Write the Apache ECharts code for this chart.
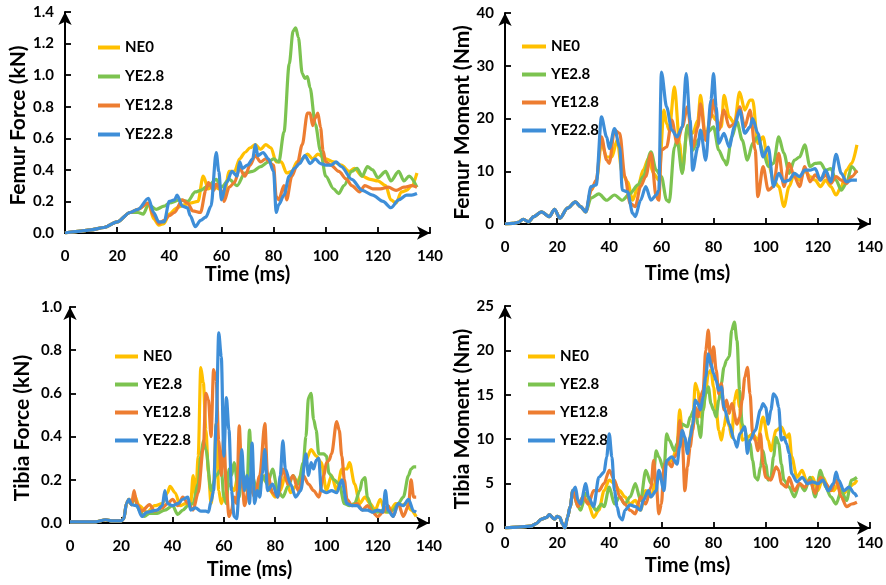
<!DOCTYPE html>
<html>
<head>
<meta charset="utf-8">
<script src="https://cdn.jsdelivr.net/npm/echarts@6/dist/echarts.min.js"></script>
<style>html,body{margin:0;padding:0;background:#fff}#c{width:886px;height:585px}</style>
</head>
<body>
<div id="c"></div>
<script>
const seriesNames = ['NE0', 'YE2.8', 'YE12.8', 'YE22.8'];
const seriesColors = ['#FFC000', '#7CC350', '#ED7D31', '#3E8ED8'];
const timeTicks = [0, 20, 40, 60, 80, 100, 120, 140];

// ---- Femur Force (kN) ----
const ffStart = [[0,0],[5,0.01],[10,0.02],[15,0.035],[20,0.07],[25,0.13]];
const ffNE0 = [[28,0.15],[32,0.19],[34,0.09],[36,0.05],[38,0.06],[40,0.12],[43,0.16],[46,0.18],[48,0.19],[51,0.2],[53,0.36],[55,0.28],[57,0.3],[59,0.28],[61,0.24],[63,0.39],[65,0.39],[67,0.47],[69,0.51],[71,0.54],[73,0.56],[75,0.53],[77,0.56],[79,0.54],[81,0.45],[83,0.45],[85,0.38],[87,0.39],[89,0.45],[91,0.47],[93,0.5],[95,0.47],[97,0.5],[100,0.47],[103,0.45],[106,0.43],[109,0.39],[111,0.41],[114,0.36],[117,0.34],[120,0.33],[123,0.3],[125,0.21],[127,0.19],[129,0.26],[131,0.27],[133,0.3],[135,0.38]];
const ffYE28 = [[28,0.13],[30,0.12],[32,0.18],[35,0.15],[38,0.17],[40,0.19],[44,0.21],[47,0.2],[50,0.26],[52,0.27],[55,0.3],[58,0.34],[60,0.29],[63,0.34],[66,0.3],[69,0.38],[72,0.39],[75,0.42],[78,0.45],[80,0.47],[82,0.45],[84,0.64],[86,1.07],[87.5,1.28],[88.5,1.3],[89.5,1.24],[91,1.01],[92,0.98],[93,0.99],[94,0.92],[96,0.69],[98,0.52],[100,0.36],[103,0.28],[105,0.25],[107,0.3],[110,0.39],[112,0.41],[114,0.36],[116,0.42],[118,0.4],[120,0.35],[123,0.39],[125,0.33],[128,0.39],[130,0.33],[132,0.36],[135,0.29]];
const ffYE128 = [[28,0.15],[32,0.19],[34,0.11],[36,0.06],[38,0.08],[40,0.11],[42,0.13],[45,0.21],[47,0.19],[49,0.14],[52,0.13],[54,0.27],[55,0.32],[57,0.27],[58,0.31],[60,0.27],[61,0.2],[63,0.29],[65,0.32],[67,0.41],[69,0.36],[71,0.43],[73,0.49],[75,0.45],[77,0.47],[80,0.43],[81,0.23],[82,0.21],[84,0.3],[85,0.21],[87,0.36],[89,0.43],[91,0.56],[93,0.76],[94,0.76],[95,0.68],[96,0.73],[97,0.76],[98,0.67],[99,0.52],[100,0.45],[102,0.43],[105,0.39],[108,0.34],[110,0.3],[113,0.26],[115,0.3],[118,0.28],[121,0.28],[124,0.29],[127,0.27],[130,0.29],[133,0.3],[135,0.29]];
const ffYE228 = [[28,0.15],[32,0.22],[34,0.13],[36,0.07],[38,0.07],[40,0.2],[42,0.21],[43,0.24],[45,0.17],[47,0.16],[48,0.11],[50,0.04],[52,0.08],[54,0.1],[56,0.17],[58,0.51],[59,0.39],[60,0.21],[62,0.32],[64,0.39],[66,0.36],[67,0.45],[68,0.41],[70,0.43],[72,0.47],[73,0.56],[74,0.49],[76,0.51],[78,0.47],[80,0.39],[81,0.13],[82,0.18],[84,0.24],[86,0.36],[88,0.41],[90,0.44],[92,0.49],[94,0.44],[96,0.47],[98,0.44],[100,0.43],[102,0.43],[104,0.45],[106,0.42],[110,0.34],[114,0.27],[118,0.24],[122,0.2],[125,0.16],[128,0.21],[131,0.24],[133,0.24],[135,0.25]];

// ---- Femur Moment (Nm) ----
const fmStart = [[0,0],[3,0.1],[5,0.3],[7,0.9],[9,0.4],[11,1.4],[14,2.3],[17,1.4],[19,2.8],[21,1.1],[24,3.0],[27,4.2],[29,3.3],[31,2.3]];
const fmNE0 = [[33,6.4],[35,8],[37,15.3],[39,12.7],[41,12.7],[43,15.9],[45,9.6],[47,8],[49,4.5],[51,7.1],[53,10.2],[55,12.4],[57,9.6],[59,8.3],[61,21.6],[62,19],[63,17.8],[65,26],[67,15.3],[68,9.9],[70,18.4],[72,17.2],[74,19.7],[75,24.4],[77,15.9],[79,20.9],[81,19.7],[83,18.4],[84,24.4],[86,20.3],[88,19],[90,25],[92,21.6],[94,23.5],[95,23.5],[97,15.3],[99,16.5],[101,11.5],[103,8.3],[105,7.1],[107,3.3],[109,7.1],[111,9.6],[113,8.3],[115,10.2],[117,9],[119,8.3],[121,7.1],[123,8.3],[125,7.1],[127,5.5],[129,7.1],[131,10.2],[133,11.5],[135,15]];
const fmYE28 = [[33,4.9],[36,5.7],[39,4.5],[42,5.5],[45,4.5],[48,5.8],[51,7.4],[53,9],[56,13.7],[58,10.2],[60,9],[62,4.5],[63,4.2],[65,14.6],[66,15.9],[68,9.6],[70,18.7],[72,14],[74,15.9],[76,17.5],[78,17.5],[80,18.4],[82,14],[84,12.1],[85,11.2],[87,16.5],[89,19.4],[91,15.9],[93,12.1],[95,15.3],[97,16.5],[99,13.7],[101,10.9],[103,11.5],[105,16.5],[107,13.4],[109,9.6],[111,12.1],[113,12.7],[115,15],[117,10.9],[119,11.5],[121,11.6],[123,10.2],[125,10.5],[127,8.3],[129,6.4],[131,7.7],[133,10.9],[135,9.6]];
const fmYE128 = [[33,6.4],[35,8.3],[37,16.5],[39,12.1],[40,11.5],[42,17.8],[44,17.2],[46,9],[48,3.9],[50,3.3],[52,7.1],[54,9],[56,13.4],[58,5.2],[59,4.5],[60,14],[62,14.6],[64,19.7],[66,15.3],[68,18.4],[70,22.2],[72,14.6],[74,18.4],[75,22.8],[77,15.9],[79,20.3],[80,23.5],[82,17.8],[84,21.6],[86,18.4],[88,19],[90,22.2],[92,18.4],[94,21.6],[96,14],[97,5.2],[99,10.9],[101,6.4],[103,7.1],[105,13.4],[107,7.1],[109,11.5],[111,9],[113,7.1],[115,10.9],[117,8],[119,9.3],[121,8.3],[123,9.3],[125,7.7],[127,9],[129,8.3],[131,7.7],[133,9],[135,10.2]];
const fmYE228 = [[33,7.1],[35,7.4],[37,20.3],[39,16.5],[40,14.3],[42,18.1],[44,14.6],[45,6.4],[47,6.1],[49,2],[50,1.4],[52,4.5],[54,7.1],[56,4.5],[58,5.5],[59,6.4],[60,28.8],[62,22.2],[64,17.8],[66,16.5],[68,18.4],[69.5,28.5],[71,19.7],[72,10.2],[74,14.6],[75,17.8],[77,12.1],[79,23.5],[80,28.5],[81,22.2],[82,15.3],[84,17.2],[86,14.6],[88,18.4],[90,21.6],[92,17.2],[94,18.4],[95,20],[97,17.2],[99,12.7],[101,14.6],[103,7.1],[105,9.6],[107,8],[109,8.3],[111,9.6],[113,9],[115,10.2],[117,10.2],[119,10.5],[121,8.3],[123,10.2],[125,8],[127,13.2],[129,9.6],[131,8],[133,8.3],[135,8.3]];

// ---- Tibia Force (kN) ----
const tfStart = [[0,0.005],[10,0.005],[14,0.015],[16,0.01],[20,0.01],[21,0.02],[22,0.09],[23,0.11],[24,0.085]];
const tfNE0 = [[25,0.13],[27,0.08],[30,0.05],[33,0.08],[36,0.09],[38,0.14],[39,0.17],[41,0.14],[43,0.08],[45,0.09],[47,0.08],[48,0.22],[49,0.12],[50,0.31],[51,0.72],[52,0.65],[53,0.43],[54,0.23],[55,0.09],[56,0.17],[57,0.46],[58,0.15],[59,0.09],[60,0.12],[62,0.18],[64,0.15],[66,0.25],[68,0.15],[70,0.2],[72,0.12],[74,0.18],[76,0.22],[78,0.15],[80,0.12],[82,0.15],[84,0.22],[86,0.14],[88,0.17],[90,0.22],[92,0.29],[94,0.34],[96,0.31],[98,0.28],[100,0.15],[102,0.22],[104,0.15],[106,0.25],[108,0.25],[109,0.28],[111,0.18],[113,0.09],[115,0.12],[117,0.09],[119,0.06],[121,0.11],[123,0.05],[125,0.06],[127,0.09],[129,0.08],[131,0.09],[133,0.06],[135,0.03]];
const tfYE28 = [[25,0.12],[27,0.06],[29,0.03],[31,0.045],[34,0.045],[37,0.06],[40,0.08],[42,0.04],[44,0.06],[46,0.08],[48,0.09],[50,0.18],[51,0.31],[52,0.38],[53,0.34],[55,0.15],[57,0.22],[59,0.25],[60,0.12],[61,0.09],[62,0.25],[63,0.22],[64,0.28],[66,0.12],[67,0.25],[68,0.22],[69,0.15],[70,0.43],[71,0.22],[73,0.15],[75,0.22],[77,0.18],[79,0.25],[81,0.15],[83,0.12],[85,0.17],[87,0.22],[89,0.18],[91,0.28],[92,0.4],[93,0.58],[94,0.6],[95,0.48],[96,0.43],[97,0.32],[99,0.32],[100,0.31],[101,0.23],[103,0.2],[105,0.18],[107,0.09],[109,0.08],[111,0.09],[113,0.15],[114,0.2],[115,0.21],[116,0.12],[118,0.06],[120,0.05],[122,0.06],[124,0.05],[126,0.06],[128,0.09],[130,0.12],[132,0.22],[133,0.25],[134,0.26],[135,0.26]];
const tfYE128 = [[25,0.15],[26,0.09],[28,0.055],[31,0.085],[33,0.055],[36,0.07],[38,0.09],[40,0.11],[42,0.08],[44,0.12],[46,0.09],[48,0.06],[50,0.14],[52,0.35],[53,0.6],[54,0.57],[55,0.4],[56,0.71],[57,0.66],[58,0.38],[59,0.22],[60,0.4],[61,0.15],[62,0.03],[63,0.06],[64,0.12],[65,0.09],[66,0.45],[67,0.22],[68,0.08],[70,0.18],[72,0.12],[74,0.22],[76,0.46],[77,0.23],[79,0.14],[81,0.12],[83,0.25],[85,0.18],[87,0.22],[89,0.15],[91,0.22],[93,0.18],[95,0.15],[97,0.12],[99,0.22],[100,0.28],[101,0.29],[102,0.32],[104,0.47],[105,0.43],[106,0.31],[107,0.2],[108,0.11],[110,0.08],[112,0.09],[114,0.06],[116,0.08],[118,0.05],[120,0.03],[122,0.05],[124,0.08],[126,0.03],[128,0.09],[130,0.03],[132,0.08],[133,0.2],[134,0.12],[135,0.12]];
const tfYE228 = [[26,0.08],[28,0.03],[30,0.05],[32,0.055],[34,0.06],[36,0.08],[37,0.15],[38,0.09],[40,0.08],[42,0.09],[44,0.11],[46,0.12],[47,0.06],[49,0.07],[51,0.055],[53,0.055],[54,0.05],[55,0.1],[56,0.15],[57,0.46],[58,0.88],[59,0.77],[60,0.31],[61,0.58],[62,0.43],[63,0.15],[64,0.03],[65,0.02],[66,0.15],[67,0.34],[68,0.15],[69,0.22],[70,0.09],[71,0.37],[72,0.09],[73,0.15],[74,0.12],[75,0.23],[76,0.34],[77,0.15],[79,0.18],[81,0.12],[82,0.22],[83,0.38],[84,0.25],[86,0.18],[88,0.12],[90,0.15],[92,0.32],[93,0.22],[94,0.28],[95,0.25],[96,0.29],[97,0.3],[98,0.15],[100,0.14],[102,0.15],[104,0.14],[106,0.2],[108,0.09],[110,0.08],[112,0.08],[114,0.06],[116,0.06],[118,0.05],[120,0.06],[122,0.05],[123,0.15],[124,0.06],[126,0.03],[128,0.09],[130,0.08],[132,0.11],[134,0.055],[135,0.05]];

// ---- Tibia Moment (Nm) ----
const tmStart = [[0,0],[5,0.1],[10,0.2],[12,0.5],[14,1.0],[16,1.2],[17,1.5],[19,1.0],[20,1.3],[21,1.2],[22,0.5],[23,0],[24,1.2],[25,2.4],[26,4.2]];
const tmNE0 = [[28,2.7],[30,3.5],[32,2.7],[34,1.2],[36,2.0],[38,4.2],[40,5.4],[42,5.0],[44,4.2],[46,3.5],[48,2.7],[50,3.1],[52,2.0],[54,4.2],[56,3.5],[58,5.4],[60,5.7],[62,7.2],[64,7.6],[66,9.1],[67,13.3],[68,11],[69,9.5],[70,8.7],[72,11.7],[73,16.3],[74,15.5],[75,12.5],[76,13.3],[77,15.5],[78,17.4],[79,17.8],[80,15.9],[81,13.3],[82,11],[83,9.9],[84,11.4],[85,12.9],[86,11.4],[87,10.2],[88,14.4],[89,15.5],[90,13.6],[91,9.9],[93,10.2],[95,10.6],[97,9.9],[99,12.5],[101,9.9],[102,8.7],[104,11],[106,11.4],[108,10.2],[109,10.6],[110,8],[112,5.7],[114,6.5],[116,5.0],[118,5.7],[120,4.2],[122,5.7],[124,4.6],[126,4.2],[128,5.0],[130,3.9],[132,4.6],[134,5.0],[135,5.4]];
const tmYE28 = [[28,2.4],[29,2.0],[31,3.9],[33,2.7],[35,2.0],[37,2.7],[38,2.4],[40,4.6],[42,2.7],[44,3.5],[46,2.7],[48,3.5],[50,5.0],[52,3.1],[54,6.5],[56,5.0],[57,6.1],[58,8.7],[59,8],[61,6.5],[62,10.6],[63,9.9],[65,8.7],[66,9.5],[67,11],[68,11.7],[70,11.4],[71,12.5],[73,13.6],[74,11.7],[75,10.2],[76,13.3],[77,15.1],[78,15.9],[79,14],[80,13.3],[81,12.5],[82,14.4],[83,16.3],[84,18.1],[85,18.9],[86,19.3],[87,22.3],[88,23.2],[89,21.1],[90,15.5],[91,11.7],[92,11],[93,9.9],[94,9.5],[95,7.6],[96,5.7],[97,5.4],[98,6.9],[99,8.7],[100,7.2],[101,5.4],[102,5.7],[103,8],[104,10.2],[105,9.5],[106,7.2],[107,5.4],[109,4.6],[111,3.5],[113,5.0],[115,4.2],[117,5.7],[119,3.5],[121,6.5],[123,4.6],[125,3.5],[127,2.7],[129,4.2],[131,3.1],[133,5.4],[135,5.7]];
const tmYE128 = [[28,2.4],[30,3.5],[32,2.7],[34,4.2],[36,4.2],[38,5.0],[40,6.5],[42,5.4],[44,3.5],[46,2.7],[48,2.0],[50,1.6],[52,3.5],[54,2.7],[56,4.6],[57,7.6],[58,5.0],[59,1.6],[60,2.7],[61,6.9],[62,7.6],[64,6.9],[65,8],[66,8.4],[67,12.1],[68,9.9],[69,4.2],[70,6.9],[71,9.1],[72,11],[73,13.6],[74,12.5],[75,14.8],[76,15.5],[77,20],[78,22.3],[79,18.1],[80,20.4],[81,17.8],[82,15.1],[83,16.3],[84,13.3],[85,14.4],[86,12.9],[87,14],[89,11.7],[90,12.5],[91,14.4],[92,17],[93,18.1],[94,15.1],[95,10.6],[96,9.9],[97,8.7],[98,10.6],[99,7.2],[100,5.7],[102,5.4],[104,6.9],[105,6.5],[106,5.0],[108,4.6],[109,5.7],[111,4.2],[113,5.0],[115,4.6],[117,5.4],[119,3.9],[121,5.7],[123,5.0],[125,4.2],[127,5.4],[129,3.5],[131,2.4],[133,2.7],[135,2.9]];
const tmYE228 = [[27,4.6],[28,3.1],[29,2.7],[31,5.0],[32,3.5],[34,2.4],[36,5.7],[38,6.3],[39,8],[40,10.6],[41,8],[42,4.2],[43,2.4],[44,1.2],[45,0.9],[46,2.0],[48,2.6],[50,2.4],[52,2.0],[53,3.1],[55,4.2],[56,3.5],[58,4.2],[59,6.5],[61,4.2],[62,7.6],[64,8],[66,7.2],[67,9.1],[68,11],[69,10.2],[70,8.4],[71,10.2],[72,11.7],[73,14.4],[74,14],[75,13.3],[76,14.8],[77,17],[78,19.6],[79,18.5],[80,17.4],[81,16.6],[82,15.5],[83,15.9],[84,13.6],[86,11.7],[88,9.9],[89,9.1],[90,10.6],[92,11.4],[93,8.4],[94,9.9],[96,11],[98,13.3],[99,14],[100,13.6],[101,11.7],[102,13.3],[103,15.1],[104,14.8],[105,13.6],[106,9.9],[107,10.2],[108,9.5],[109,8.4],[110,6.1],[112,5.2],[114,5.7],[116,5.0],[118,5.2],[120,5.0],[122,5.4],[124,4.2],[126,5.0],[127,6.3],[128,5.4],[130,4.2],[132,4.6],[134,3.9],[135,3.5]];

const panels = [
  { yName: 'Femur Force (kN)', yMax: 1.4, yInt: 0.2, dec: 1, start: ffStart, data: [ffNE0, ffYE28, ffYE128, ffYE228],
    grid: {left: 65, top: 12, width: 365, height: 221}, xLabelMargin: 16, xNameGap: 30, yLabelMargin: 11, yNameGap: 33, yNamePad: [0, 6, 0, 0],
    legend: {left: 93, top: 34, itemWidth: 22, itemGap: 12} },
  { yName: 'Femur Moment (Nm)', yMax: 40, yInt: 10, dec: 0, start: fmStart, data: [fmNE0, fmYE28, fmYE128, fmYE228],
    grid: {left: 505, top: 13, width: 369, height: 211}, xLabelMargin: 16, xNameGap: 40, yLabelMargin: 11, yNameGap: 31, yNamePad: [0, 8, 0, 0],
    legend: {left: 517, top: 33, itemWidth: 24, itemGap: 11} },
  { yName: 'Tibia Force (kN)', yMax: 1.0, yInt: 0.2, dec: 1, start: tfStart, data: [tfNE0, tfYE28, tfYE128, tfYE228],
    grid: {left: 70, top: 307, width: 359, height: 216}, xLabelMargin: 16, xNameGap: 37, yLabelMargin: 8, yNameGap: 37, yNamePad: [0, 26, 0, 0],
    legend: {left: 110, top: 343, itemWidth: 23, itemGap: 11} },
  { yName: 'Tibia Moment (Nm)', yMax: 25, yInt: 5, dec: 0, start: tmStart, data: [tmNE0, tmYE28, tmYE128, tmYE228],
    grid: {left: 505, top: 306, width: 370, height: 222}, xLabelMargin: 8, xNameGap: 28, yLabelMargin: 11, yNameGap: 29, yNamePad: [0, 4, 0, 0],
    legend: {left: 523, top: 343, itemWidth: 27, itemGap: 11} }
];

const FONT = 'Lato';
const axisLineStyle = { show: true, symbol: ['none', 'arrow'], symbolSize: [10, 13], lineStyle: { color: '#000', width: 2 } };
const tickStyle = { show: true, inside: true, length: 6, lineStyle: { color: '#000', width: 1.8 } };

const option = { animation: false, backgroundColor: '#fff', grid: [], xAxis: [], yAxis: [], legend: [], series: [] };

panels.forEach((p, i) => {
  option.grid.push(Object.assign({ containLabel: false }, p.grid));
  option.xAxis.push({
    type: 'value', gridIndex: i, min: 0, max: 140, interval: 20,
    name: 'Time (ms)', nameLocation: 'middle', nameGap: p.xNameGap,
    nameTextStyle: { fontFamily: FONT, fontWeight: 'bold', fontSize: 20, color: '#000' },
    axisLine: axisLineStyle,
    axisTick: tickStyle,
    axisLabel: { margin: p.xLabelMargin, fontFamily: FONT, fontWeight: 'bold', fontSize: 15, color: '#000',
      formatter: v => timeTicks.includes(v) ? String(v) : '' },
    splitLine: { show: false }
  });
  option.yAxis.push({
    type: 'value', gridIndex: i, min: 0, max: p.yMax, interval: p.yInt,
    name: p.yName, nameLocation: 'middle', nameGap: p.yNameGap,
    nameTextStyle: { fontFamily: FONT, fontWeight: 'bold', fontSize: 21, color: '#000', padding: p.yNamePad },
    axisLine: axisLineStyle,
    axisTick: tickStyle,
    axisLabel: { margin: p.yLabelMargin, fontFamily: FONT, fontWeight: 'bold', fontSize: 15, color: '#000',
      formatter: v => v.toFixed(p.dec) },
    splitLine: { show: false }
  });
  option.legend.push({
    orient: 'vertical', left: p.legend.left, top: p.legend.top,
    itemWidth: p.legend.itemWidth, itemHeight: 4, itemGap: p.legend.itemGap, icon: 'rect',
    textStyle: { fontFamily: FONT, fontWeight: 'bold', fontSize: 15, color: '#000', lineHeight: 17 },
    data: seriesNames, selectedMode: false
  });
  p.data.forEach((d, k) => {
    option.series.push({
      type: 'line', name: seriesNames[k], xAxisIndex: i, yAxisIndex: i,
      data: p.start.concat(d), showSymbol: false, symbol: 'none',
      smooth: 0.3, smoothMonotone: 'x',
      lineStyle: { color: seriesColors[k], width: 3.2 }, itemStyle: { color: seriesColors[k] },
      z: 2 + k
    });
  });
});

const chart = echarts.init(document.getElementById('c'), null, { renderer: 'canvas' });
chart.setOption(option);
</script>
</body>
</html>
